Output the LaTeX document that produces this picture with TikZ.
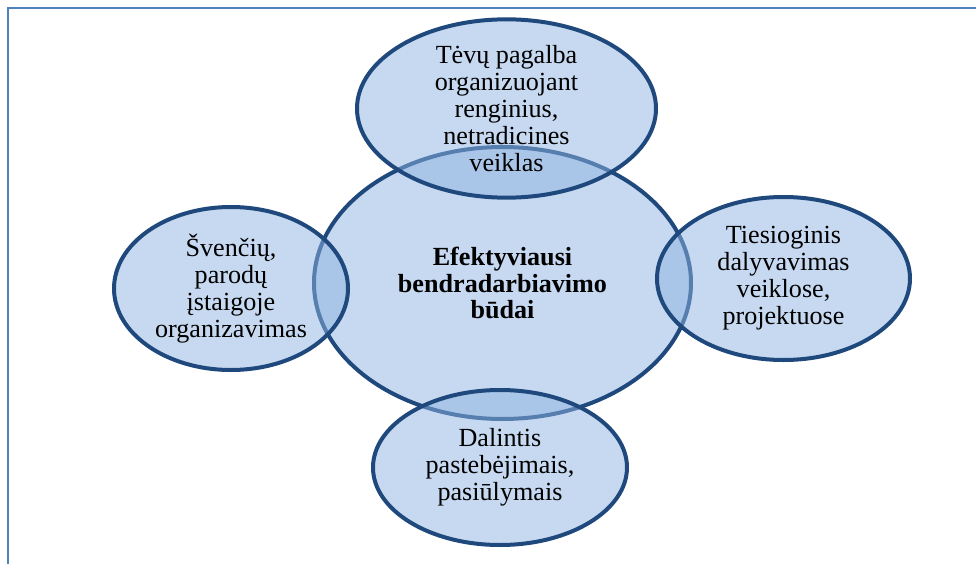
\documentclass[tikz,border=0pt]{standalone}
\usepackage{fontspec}
\setmainfont{Liberation Serif}
\usepackage{xcolor}
\usepackage{tikz}
\usetikzlibrary{shapes.geometric}

\definecolor{vennfill}{HTML}{8DB3E2}
\definecolor{vennline}{HTML}{1F497D}
\definecolor{framecol}{HTML}{4F81BD}

\tikzset{
    venn/.style={
        ellipse,
        draw=vennline,
        line width=3pt,
        fill=vennfill,
        fill opacity=0.5,
        text opacity=1,
        align=center,
        inner sep=0pt,
        font=\fontsize{19.6}{20.2}\selectfont
    }
}

\begin{document}
\begin{tikzpicture}[x=0.75pt,y=-0.75pt]

                \useasboundingbox (0,0) rectangle (976,564);

                % frame
                \draw[
                    line width=0.8pt,
                    draw=framecol
                ] (8,564) -- (8,8) -- (976,8);

                % centre
                \node[venn, minimum width=282.75pt, minimum height=204pt] (budai) at (502.5,283)
                    {\textbf{Efektyviausi}\\ \textbf{bendradarbiavimo}\\ \textbf{būdai}};

                % around
                \node[venn, minimum width=224.25pt, minimum height=125.25pt] (pagalba) at (506.5,108.5)
                    {Tėvų pagalba\\ organizuojant\\ renginius,\\ netradicines\\ veiklas};

                \node[venn, minimum width=175.5pt, minimum height=122.25pt] (sventes) at (231,288.5)
                    {Švenčių,\\ parodų\\ įstaigoje\\ organizavimas};

                \node[venn, minimum width=189.75pt, minimum height=122.25pt] (dalyvavimas) at (783.5,278.5)
                    {Tiesioginis\\ dalyvavimas\\ veiklose,\\ projektuose};

                \node[venn, minimum width=190.5pt, minimum height=116.25pt] (dalintis) at (500,467.5)
                    {Dalintis\\ pastebėjimais,\\ pasiūlymais};

\end{tikzpicture}
\end{document}
